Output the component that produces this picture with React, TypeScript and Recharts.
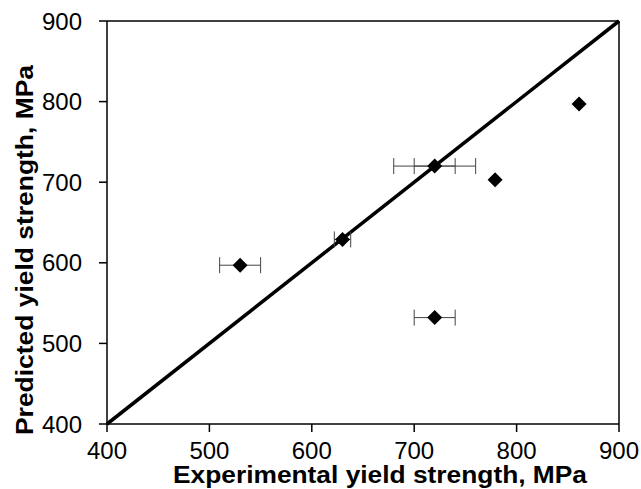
import React from 'react';
import { ScatterChart, Scatter, XAxis, YAxis, ErrorBar, ReferenceLine } from 'recharts';

// values
const experimental = [530, 630, 720, 720, 779, 861];
const predicted = [597, 629, 720, 532, 703, 797];
const expError = [20, 8, 40, 20, 0, 0];
// the 720/720 point carries a second, narrower error bar
const innerX = [720];
const innerY = [720];
const innerError = [20];
const ticks = [400, 500, 600, 700, 800, 900];

const points = experimental.map((x, i) => ({ x, y: predicted[i], err: expError[i] }));
const withError = points.filter((p) => p.err > 0);
const inner = innerX.map((x, i) => ({ x, y: innerY[i], err: innerError[i] }));

const font = '"Liberation Sans", Arial, sans-serif';

const Diamond = (props: any) => {
  const { cx, cy } = props;
  const r = 7.5;
  return <path d={`M${cx},${cy - r}L${cx + r},${cy}L${cx},${cy + r}L${cx - r},${cy}Z`} fill="#000" />;
};

const Nothing = () => <g />;

export default function App() {
  return (
    <div style={{ position: 'absolute', left: 0, top: 0, width: 641, height: 489, background: '#fff' }}>
      <ScatterChart width={641} height={489} margin={{ top: 21, right: 22, left: 0, bottom: 0 }}>
        <XAxis
          type="number"
          dataKey="x"
          domain={[400, 900]}
          ticks={ticks}
          allowDataOverflow
          height={65}
          stroke="#000"
          strokeWidth={1.5}
          tickSize={8}
          tickMargin={10}
          tick={{ fill: '#000', fontSize: 24, fontFamily: font }}
          label={{
            content: () => (
              <text
                x={380}
                y={483}
                textAnchor="middle"
                fontFamily={font}
                fontSize={23}
                fontWeight="bold"
                fill="#000"
                textLength={414}
                lengthAdjust="spacingAndGlyphs"
              >
                Experimental yield strength, MPa
              </text>
            ),
          }}
        />
        <YAxis
          type="number"
          dataKey="y"
          domain={[400, 900]}
          ticks={ticks}
          allowDataOverflow
          width={107}
          stroke="#000"
          strokeWidth={1.5}
          tickSize={8}
          tickMargin={17}
          tick={{ fill: '#000', fontSize: 24, fontFamily: font }}
          label={{
            content: () => (
              <text
                x={0}
                y={0}
                transform="translate(33 250) rotate(-90)"
                textAnchor="middle"
                fontFamily={font}
                fontSize={24}
                fontWeight="bold"
                fill="#000"
                textLength={370}
                lengthAdjust="spacingAndGlyphs"
              >
                Predicted yield strength, MPa
              </text>
            ),
          }}
        />
        <ReferenceLine y={900} stroke="#000" strokeWidth={1.5} />
        <ReferenceLine x={900} stroke="#000" strokeWidth={1.5} />
        <ReferenceLine
          segment={[
            { x: 400, y: 400 },
            { x: 900, y: 900 },
          ]}
          stroke="#000"
          strokeWidth={3.5}
        />
        <Scatter data={withError} shape={Nothing} isAnimationActive={false}>
          <ErrorBar dataKey="err" direction="x" width={8} stroke="#444" strokeWidth={1} isAnimationActive={false} />
        </Scatter>
        <Scatter data={inner} shape={Nothing} isAnimationActive={false}>
          <ErrorBar dataKey="err" direction="x" width={8} stroke="#444" strokeWidth={1} isAnimationActive={false} />
        </Scatter>
        <Scatter data={points} shape={Diamond} isAnimationActive={false} />
      </ScatterChart>
    </div>
  );
}
